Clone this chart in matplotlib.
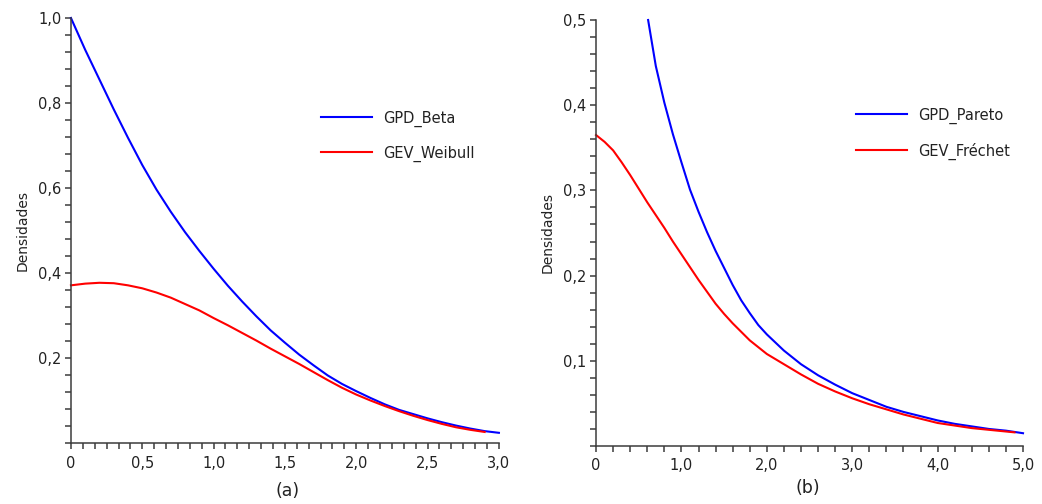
import numpy as np
import matplotlib.pyplot as plt
from matplotlib.ticker import MultipleLocator, FuncFormatter

# painel (a): densidades
xa_gpd = [0.0, 0.1, 0.2, 0.3, 0.4, 0.5, 0.6, 0.7, 0.8, 0.9, 1.0, 1.1, 1.2, 1.3, 1.4, 1.5,
          1.6, 1.7, 1.8, 1.9, 2.0, 2.1, 2.2, 2.3, 2.4, 2.5, 2.6, 2.7, 2.8, 2.9, 3.0]
ya_gpd = [1.0, 0.925, 0.855, 0.785, 0.718, 0.654, 0.596, 0.544, 0.496, 0.452, 0.410,
          0.370, 0.333, 0.298, 0.265, 0.236, 0.208, 0.183, 0.159, 0.139, 0.122, 0.106,
          0.091, 0.078, 0.068, 0.058, 0.049, 0.041, 0.034, 0.028, 0.024]
xa_gev = [0.0, 0.1, 0.2, 0.3, 0.4, 0.5, 0.6, 0.7, 0.8, 0.9, 1.0, 1.1, 1.2, 1.3, 1.4, 1.5,
          1.6, 1.7, 1.8, 1.9, 2.0, 2.1, 2.2, 2.3, 2.4, 2.5, 2.6, 2.7, 2.8, 2.9]
ya_gev = [0.371, 0.375, 0.377, 0.376, 0.371, 0.364, 0.354, 0.342, 0.327, 0.312, 0.294,
          0.277, 0.259, 0.241, 0.222, 0.204, 0.186, 0.167, 0.148, 0.130, 0.114, 0.100,
          0.087, 0.075, 0.064, 0.054, 0.045, 0.037, 0.031, 0.026]

# painel (b)
xb_gpd = [0.61, 0.7, 0.8, 0.9, 1.0, 1.1, 1.2, 1.3, 1.4, 1.5, 1.6, 1.7, 1.8, 1.9, 2.0,
          2.2, 2.4, 2.6, 2.8, 3.0, 3.2, 3.4, 3.6, 3.8, 4.0, 4.2, 4.4, 4.6, 4.8, 5.0]
yb_gpd = [0.500, 0.446, 0.403, 0.366, 0.333, 0.301, 0.275, 0.251, 0.229, 0.209, 0.189,
          0.171, 0.156, 0.142, 0.131, 0.112, 0.096, 0.083, 0.072, 0.062, 0.054, 0.046,
          0.040, 0.035, 0.030, 0.026, 0.023, 0.020, 0.018, 0.015]
xb_gev = [0.0, 0.1, 0.2, 0.3, 0.4, 0.5, 0.6, 0.7, 0.8, 0.9, 1.0, 1.1, 1.2, 1.3, 1.4, 1.5,
          1.6, 1.7, 1.8, 1.9, 2.0, 2.2, 2.4, 2.6, 2.8, 3.0, 3.2, 3.4, 3.6, 3.8, 4.0, 4.2,
          4.4, 4.6, 4.8, 4.9]
yb_gev = [0.365, 0.357, 0.347, 0.333, 0.318, 0.302, 0.286, 0.271, 0.256, 0.240, 0.225,
          0.210, 0.195, 0.181, 0.167, 0.155, 0.144, 0.134, 0.124, 0.116, 0.108, 0.096,
          0.084, 0.073, 0.064, 0.056, 0.049, 0.043, 0.037, 0.032, 0.027, 0.024, 0.021,
          0.019, 0.017, 0.016]

cor_eixo = '#3c3c3c'
cor_txt = '#222222'

def virgula(v, pos):
    if abs(v) < 1e-9:
        return '0'
    return ('%.1f' % v).replace('.', ',')

def prepara(ax, xmax, ymax, xmaj, xmin, ymaj, ymin):
    ax.set_xlim(0, xmax)
    ax.set_ylim(0, ymax)
    for s in ['top', 'right']:
        ax.spines[s].set_visible(False)
    for s in ['left', 'bottom']:
        ax.spines[s].set_color(cor_eixo)
        ax.spines[s].set_linewidth(1.1)
    ax.xaxis.set_major_locator(MultipleLocator(xmaj))
    ax.xaxis.set_minor_locator(MultipleLocator(xmin))
    ax.set_yticks(np.arange(ymaj, ymax + 1e-9, ymaj))
    ax.yaxis.set_minor_locator(MultipleLocator(ymin))
    ax.xaxis.set_major_formatter(FuncFormatter(virgula))
    ax.yaxis.set_major_formatter(FuncFormatter(virgula))
    ax.tick_params(which='both', direction='out', length=4, width=1.1, color=cor_eixo)
    ax.tick_params(axis='x', labelsize=10.5, pad=5, labelcolor=cor_txt)
    ax.tick_params(axis='y', labelsize=10.5, pad=3, labelcolor=cor_txt)
    ax.set_ylabel('Densidades', fontsize=10, color=cor_txt, labelpad=6)

fig = plt.figure(figsize=(10.42, 5.04), dpi=100)
ax1 = fig.add_axes([0.0681, 0.121, 0.4107, 0.8433])
ax2 = fig.add_axes([0.572, 0.1151, 0.4098, 0.8452])

ax1.plot(xa_gpd, ya_gpd, color='#0000ff', lw=1.5, label='GPD_Beta', clip_on=False)
ax1.plot(xa_gev, ya_gev, color='#ff0000', lw=1.5, label='GEV_Weibull', clip_on=False)
prepara(ax1, 3.0, 1.0, 0.5, 0.5 / 6, 0.2, 0.04)

ax2.plot(xb_gpd, yb_gpd, color='#0000ff', lw=1.5, label='GPD_Pareto', clip_on=False)
ax2.plot(xb_gev, yb_gev, color='#ff0000', lw=1.5, label='GEV_Fréchet', clip_on=False)
prepara(ax2, 5.0, 0.5, 1.0, 0.2, 0.1, 0.02)

for ax, pos in [(ax1, (0.308, 0.781)), (ax2, (0.8215, 0.787))]:
    ax.legend(loc='upper left', bbox_to_anchor=pos, bbox_transform=fig.transFigure,
              frameon=False, fontsize=10.5, handlelength=3.5, handletextpad=0.75,
              labelspacing=1.3, borderpad=0, borderaxespad=0, labelcolor=cor_txt)

fig.text(0.2755, 0.026, '(a)', fontsize=12.5, color=cor_txt, ha='center', va='center')
fig.text(0.7755, 0.032, '(b)', fontsize=12.5, color=cor_txt, ha='center', va='center')

plt.savefig('out.png', dpi=100)
